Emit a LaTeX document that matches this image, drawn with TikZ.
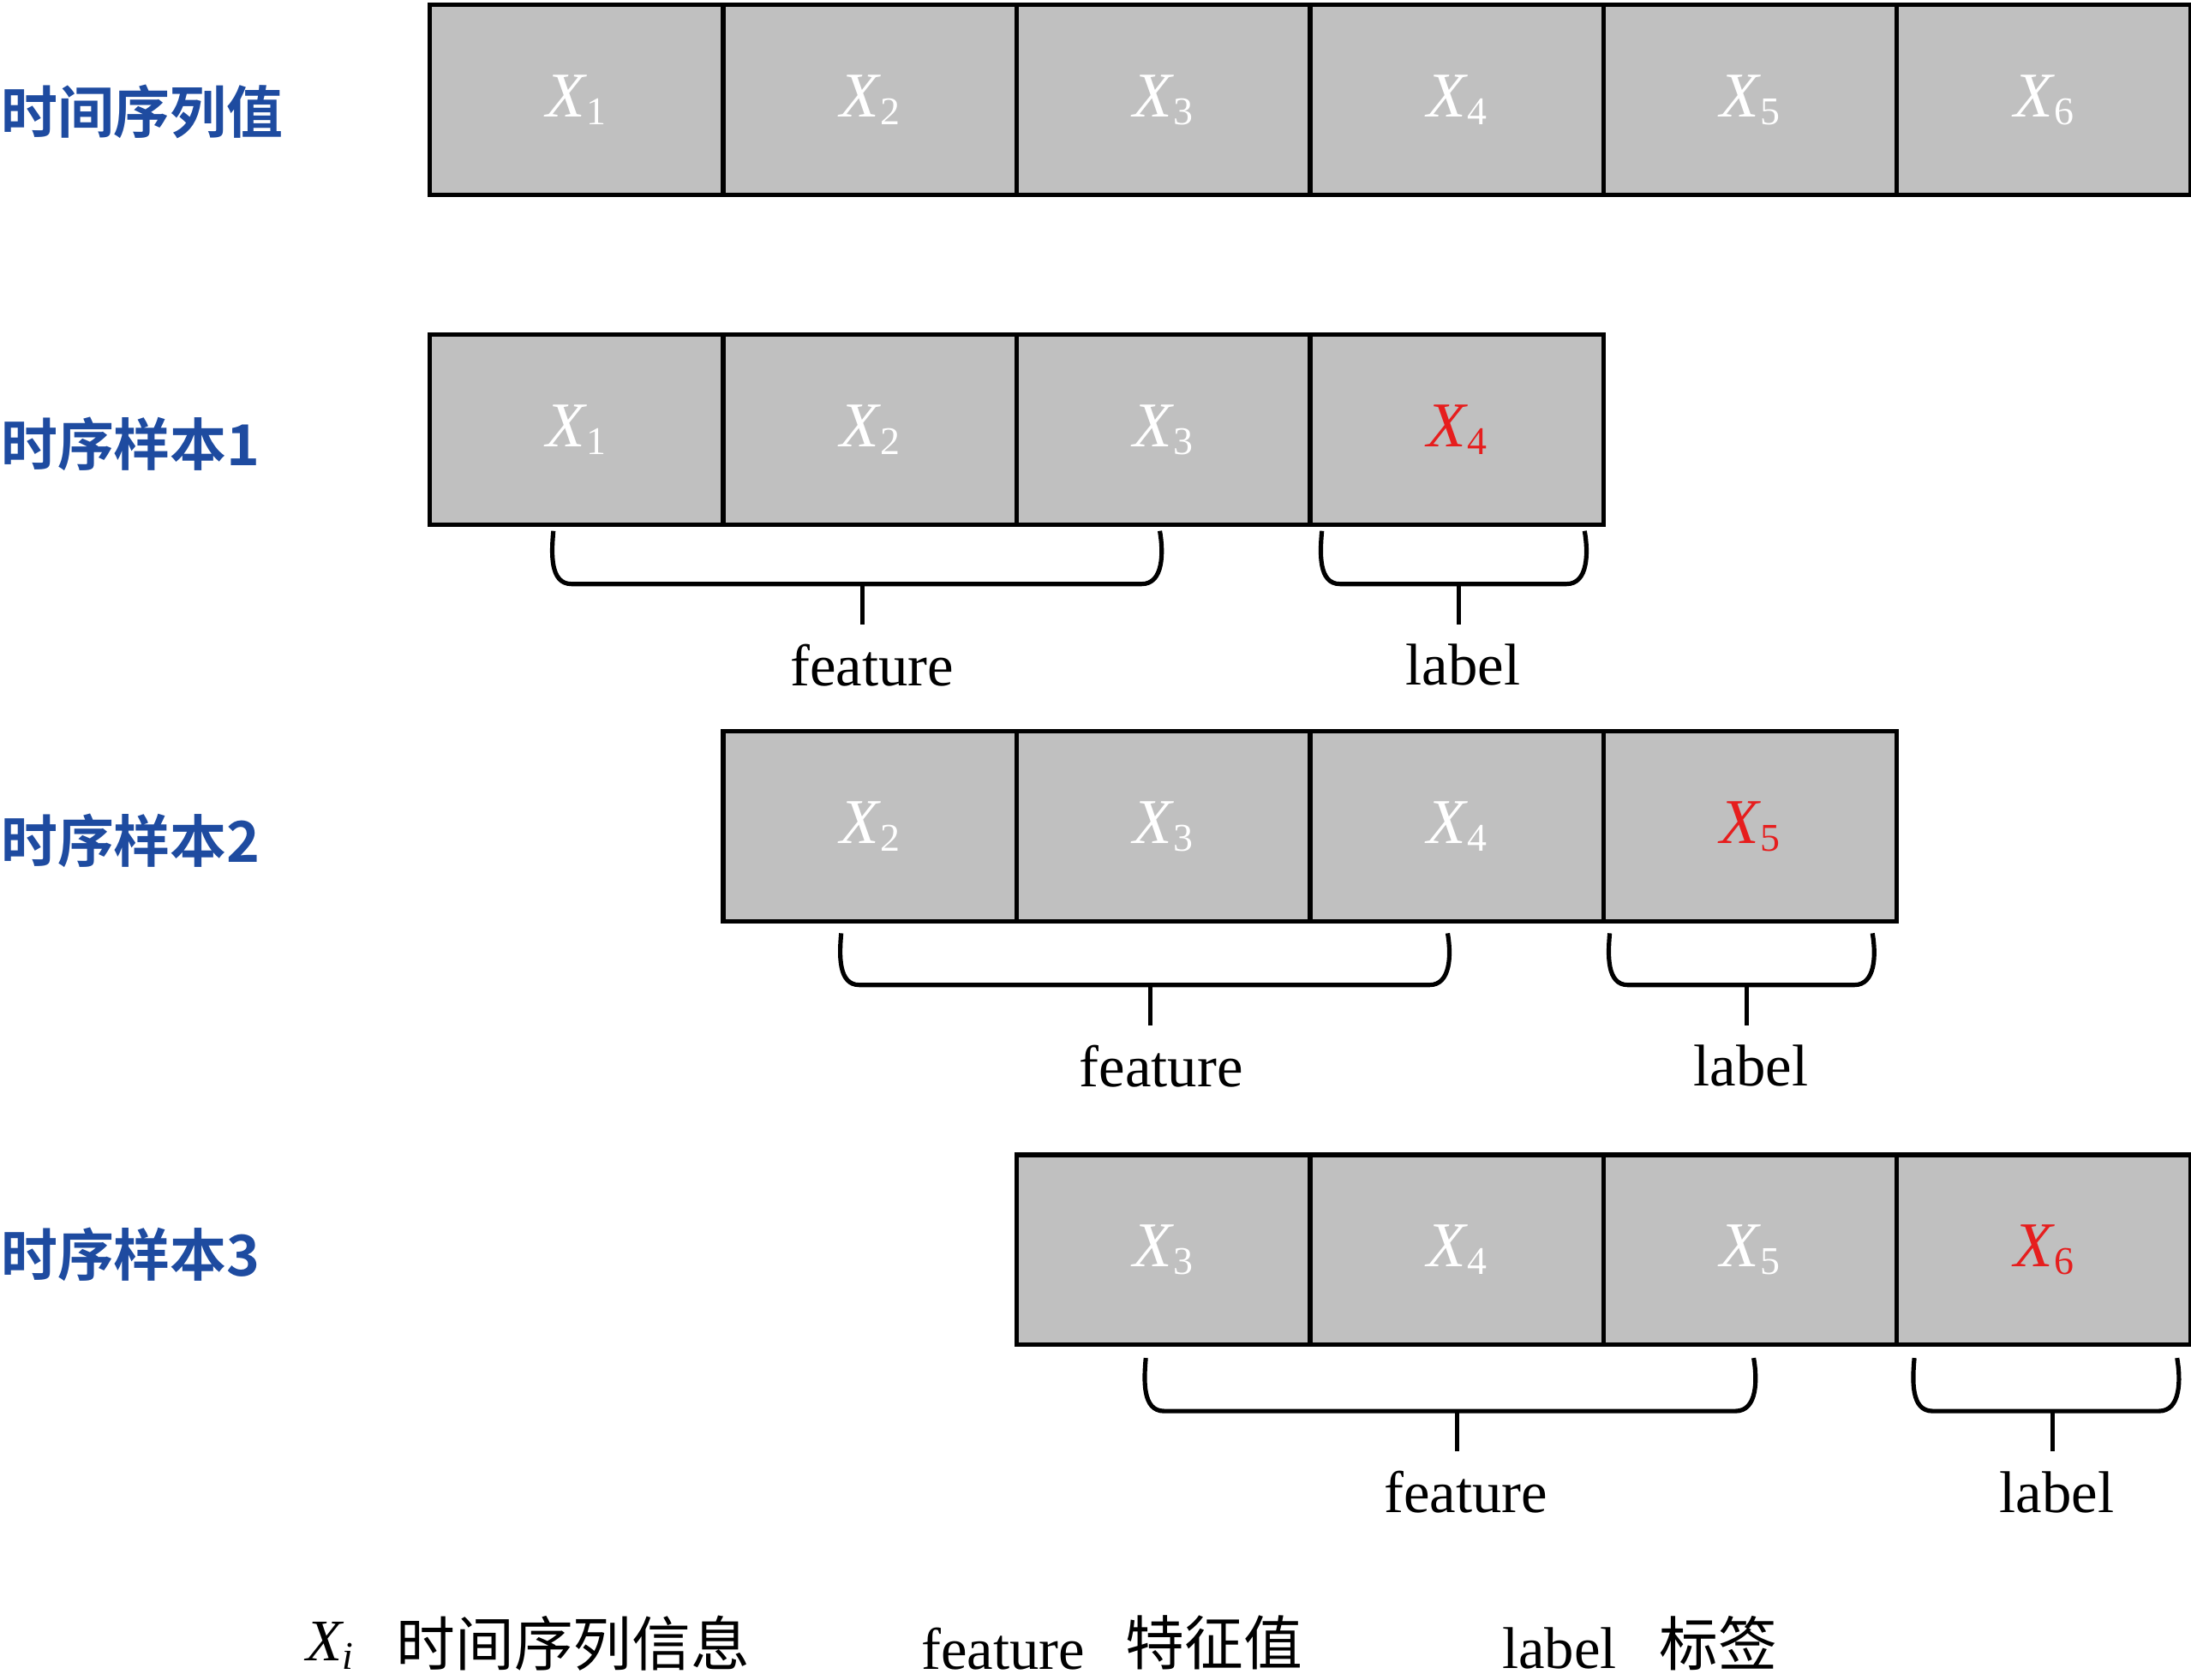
\documentclass[tikz,border=0pt]{standalone}
\usepackage{fontspec}
\setmainfont{Liberation Serif}
\newfontfamily\cjk{Noto Sans CJK SC}
\newfontfamily\cjkb{Noto Sans CJK SC Bold}
\definecolor{cellgray}{RGB}{192,192,192}
\definecolor{lblue}{RGB}{30,75,160}
\definecolor{xred}{RGB}{230,30,30}
\newcommand{\xv}[1]{{\itshape X}\kern0.02em\raisebox{-0.25ex}{\fontsize{8}{8}\selectfont #1}}
\tikzset{
 cell/.style={draw=black,line width=0.9pt,fill=cellgray,minimum width=2.1cm,minimum height=1.36cm,inner sep=0pt,anchor=north west,text=white,font=\fontsize{13}{13}\selectfont},
 rowlbl/.style={anchor=west,text=lblue,font=\cjkb\fontsize{11.5}{11.5}\selectfont,inner sep=0pt},
 bt/.style={font=\fontsize{12}{12}\selectfont,inner sep=0pt},
 brace/.style={line width=0.9pt},
 leg/.style={font=\fontsize{12}{12}\selectfont,inner sep=0pt}
}
\newcommand{\mybrace}[5]{% x1 x2 mid top bottom
 \draw[brace] (#1,#4) to[out=-95,in=180] (#1+0.13,#5) -- (#3,#5) -- (#2-0.13,#5) to[out=0,in=-80] (#2,#4);
 \draw[brace] (#3,#5) -- (#3,#5+0.29);}
\begin{document}
\begin{tikzpicture}[y=-1cm]
\useasboundingbox (0,0) rectangle (15.68,12.025);
% row 0
\foreach \i/\x in {1/3.06,2/5.16,3/7.26,4/9.36,5/11.46,6/13.56}
  \node[cell] (a\i) at (\x,0.02) {\xv{\i}};
\node[rowlbl] (l0) at (0,0.8) {时间序列值};
% row 1
\foreach \i/\x in {1/3.06,2/5.16,3/7.26}
  \node[cell] (b\i) at (\x,2.38) {\xv{\i}};
\node[cell,text=xred] (b4) at (9.36,2.38) {\xv{4}};
\node[rowlbl] (l1) at (0,3.18) {时序样本1};
\mybrace{3.96}{8.30}{6.17}{3.80}{4.18}
\mybrace{9.46}{11.34}{10.44}{3.80}{4.18}
\node[bt] (f1) at (6.24,4.76) {feature};
\node[bt] (g1) at (10.47,4.76) {label};
% row 2
\foreach \i/\x in {2/5.16,3/7.26,4/9.36}
  \node[cell] (c\i) at (\x,5.22) {\xv{\i}};
\node[cell,text=xred] (c5) at (11.46,5.22) {\xv{5}};
\node[rowlbl] (l2) at (0,6.02) {时序样本2};
\mybrace{6.02}{10.36}{8.23}{6.68}{7.05}
\mybrace{11.52}{13.40}{12.50}{6.68}{7.05}
\node[bt] (f2) at (8.31,7.63) {feature};
\node[bt] (g2) at (12.53,7.63) {label};
% row 3
\foreach \i/\x in {3/7.26,4/9.36,5/11.46}
  \node[cell] (d\i) at (\x,8.25) {\xv{\i}};
\node[cell,text=xred] (d6) at (13.56,8.25) {\xv{6}};
\node[rowlbl] (l3) at (0,8.98) {时序样本3};
\mybrace{8.20}{12.55}{10.43}{9.72}{10.10}
\mybrace{13.70}{15.58}{14.69}{9.72}{10.10}
\node[bt] (f3) at (10.49,10.68) {feature};
\node[bt] (g3) at (14.72,10.68) {label};
% legend
\node[leg] (k1) at (2.36,11.78) {{\itshape X}\raisebox{-0.3ex}{\fontsize{8}{8}\selectfont\itshape i}};
\node[leg,anchor=west] (k2) at (2.83,11.76) {\cjk 时间序列信息};
\node[leg] (k3) at (7.18,11.80) {feature};
\node[leg,anchor=west] (k4) at (8.05,11.76) {\cjk 特征值};
\node[leg] (k5) at (11.16,11.80) {label};
\node[leg,anchor=west] (k6) at (11.87,11.76) {\cjk 标签};
\end{tikzpicture}
\end{document}
